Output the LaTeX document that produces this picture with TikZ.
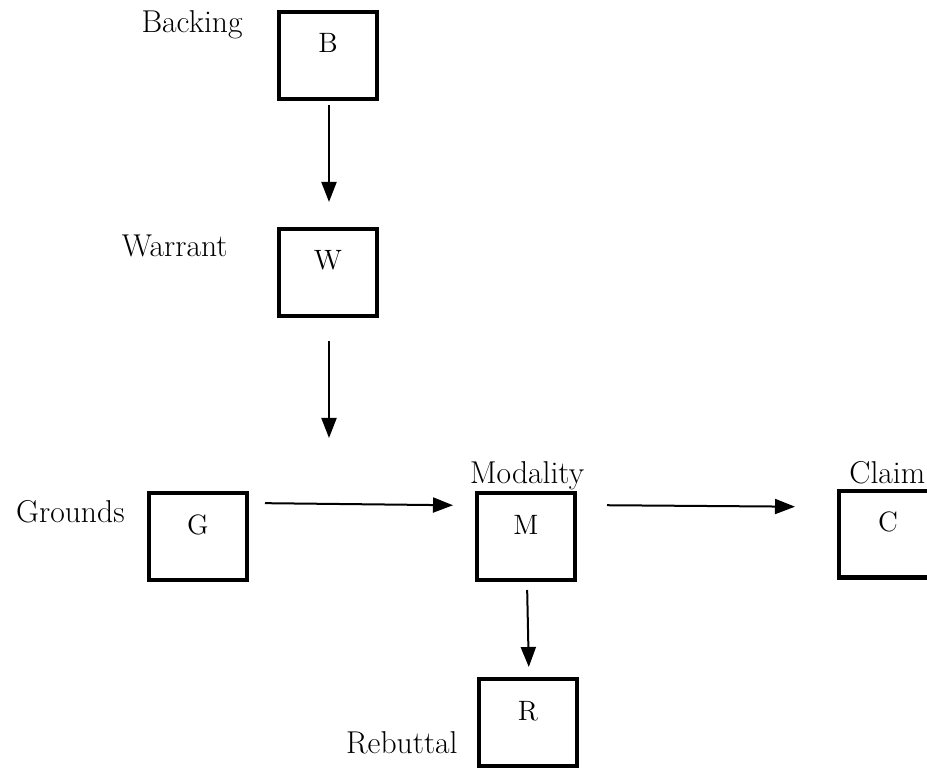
\documentclass[tikz,border=0pt]{standalone}
\usepackage{amsmath}
\usepackage{tikz}
\usetikzlibrary{positioning,arrows.meta}

\begin{document}
\begin{tikzpicture}[node distance=63pt,
    box/.style={draw, line width=2.2pt, minimum width=48.8pt, minimum height=43.3pt,
      text height=9pt, text depth=11.5pt, font=\fontsize{14pt}{17pt}\selectfont},
    lbl/.style={inner sep=0pt, font=\fontsize{15.8pt}{19pt}\selectfont},
    arr/.style={line width=1pt, -{Triangle[length=10pt,width=7.5pt]}}]
    \useasboundingbox (0,0) rectangle (463.5pt,-385pt);
    \node(B) [box] at (164pt,-27.75pt) {B};
    \node(W) [box, below=of B] {W};
    \node(G) [box] at (99pt,-268.25pt) {G};
    \node(M) [box, right=113pt of G] {M};
    \node(C) [box, right=130pt of M, yshift=1.25pt] {C};
    \node(R) [box, below=47.5pt of M, xshift=1pt] {R};
    \coordinate[below=60pt of W] (wend);
    % labels
    \node(backing) [lbl, anchor=base east] at ([shift={(-17pt,-11.5pt)}]B.north west) {Backing};
    \node(warrant) [lbl, anchor=base east] at ([shift={(-24.5pt,-15pt)}]W.north west) {Warrant};
    \node(grounds) [lbl, anchor=base east] at ([shift={(-11pt,-15.5pt)}]G.north west) {Grounds};
    \node(modality) [lbl, anchor=base] at ([shift={(0.5pt,4pt)}]M.north) {Modality};
    \node(claim) [lbl, anchor=base west] at ([shift={(6pt,2.5pt)}]C.north west) {Claim};
    \node(rebuttal) [lbl, anchor=base east] at ([shift={(-9.5pt,7.5pt)}]R.south west) {Rebuttal};
    % arrows
    \draw[arr, shorten <=2pt, shorten >=12.5pt] ([xshift=0.5pt]B.south) -- ([xshift=0.5pt]W.north);
    \draw[arr, shorten <=11.5pt] ([xshift=0.5pt]W.south) -- ([xshift=0.5pt]wend);
    \draw[arr, shorten <=8pt, shorten >=11pt] ([yshift=16.75pt]G.east) -- ([yshift=15.5pt]M.west);
    \draw[arr, shorten <=15pt, shorten >=21pt] ([yshift=15.75pt]M.east) -- ([yshift=13.5pt]C.west);
    \draw[arr, shorten <=4pt, shorten >=5pt] ([xshift=0.5pt]M.south) -- ([xshift=0.5pt]R.north);
\end{tikzpicture}
\end{document}
